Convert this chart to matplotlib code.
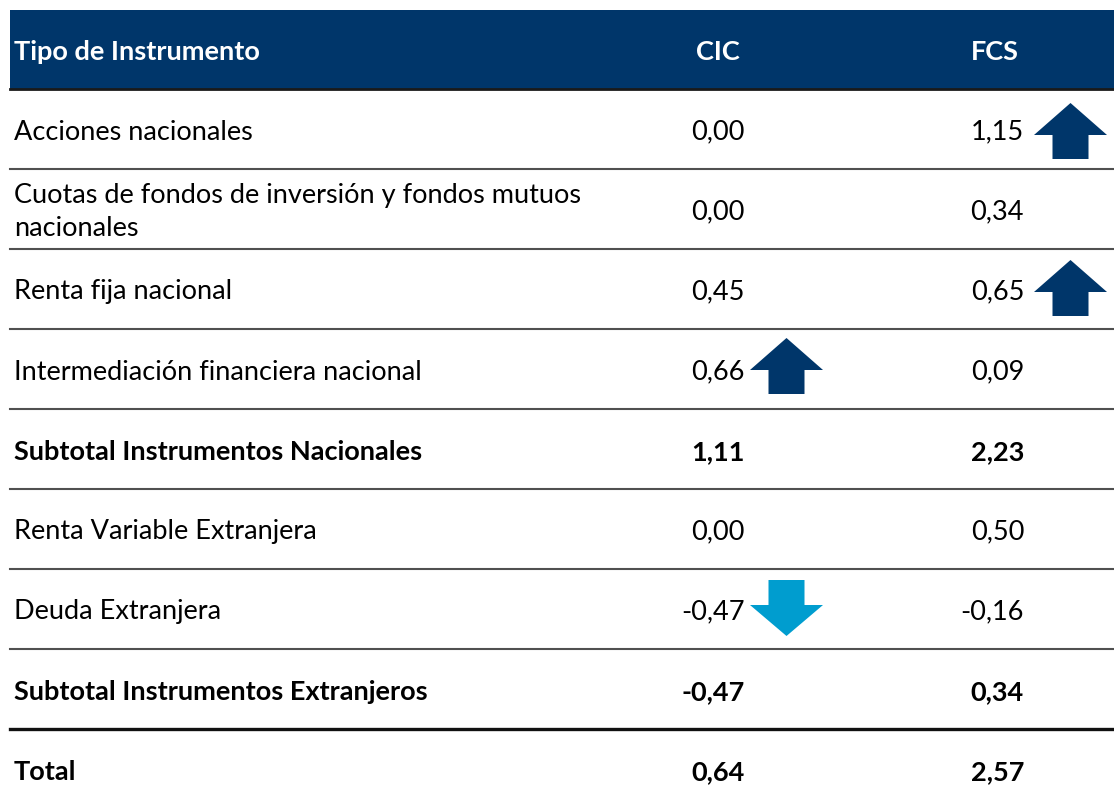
import matplotlib
matplotlib.use("Agg")
import matplotlib.pyplot as plt
from matplotlib.patches import Rectangle, Polygon

# table content
headers = ["Tipo de Instrumento", "CIC", "FCS"]
instrumentos = [
    "Acciones nacionales",
    "Cuotas de fondos de inversión y fondos mutuos\nnacionales",
    "Renta fija nacional",
    "Intermediación financiera nacional",
    "Subtotal Instrumentos Nacionales",
    "Renta Variable Extranjera",
    "Deuda Extranjera",
    "Subtotal Instrumentos Extranjeros",
    "Total",
]
cic = [0.00, 0.00, 0.45, 0.66, 1.11, 0.00, -0.47, -0.47, 0.64]
fcs = [1.15, 0.34, 0.65, 0.09, 2.23, 0.50, -0.16, 0.34, 2.57]
negrita = [False, False, False, False, True, False, False, True, True]
# arrows: (row, column, direction, small vertical shift)
flechas = [(0, "FCS", "up", 3), (2, "FCS", "up", 0), (3, "CIC", "up", -2),
           (6, "CIC", "down", 0)]

navy = "#00366A"
celeste = "#009DCF"
font = "Lato"
fs = 19.5

W, H = 1114, 806
fig = plt.figure(figsize=(W / 100, H / 100), dpi=100)
ax = fig.add_axes([0, 0, 1, 1])
ax.set_xlim(0, W)
ax.set_ylim(H, 0)
ax.axis("off")

x0 = 10
x_text = 14
col_x = {"CIC": 745, "FCS": 1024}
col_head = {"CIC": 718, "FCS": 995}
arrow_gap = {"CIC": 5, "FCS": 10}
top = 89
row_h = 80

# header band
ax.add_patch(Rectangle((x0, 10), W - x0, top - 10, color=navy, lw=0))
ax.plot([x0, W], [top, top], color="#1a1a1a", lw=2)
ax.text(x_text, 52, headers[0], color="white", fontsize=fs, fontweight="bold",
        family=font, va="center", ha="left")
for h in headers[1:]:
    ax.text(col_head[h], 52, h, color="white", fontsize=fs, fontweight="bold",
            family=font, va="center", ha="center")


def fmt(v):
    return f"{v:.2f}".replace(".", ",")


for i, name in enumerate(instrumentos):
    yc = top + row_h * i + row_h / 2 + 3
    w = "bold" if negrita[i] else "normal"
    ax.text(x_text, yc, name, fontsize=fs, fontweight=w, family=font,
            va="center", ha="left", linespacing=1.4)
    ax.text(col_x["CIC"], yc, fmt(cic[i]), fontsize=fs, fontweight=w,
            family=font, va="center", ha="right")
    ax.text(col_x["FCS"], yc, fmt(fcs[i]), fontsize=fs, fontweight=w,
            family=font, va="center", ha="right")
    # separator under row
    yl = top + row_h * (i + 1)
    if i == 7:
        ax.plot([x0, W], [yl, yl], color="#111111", lw=2.4)
    elif i < 7:
        ax.plot([x0, W], [yl, yl], color="#505050", lw=1.5)

# arrows
for fila, col, d, dy in flechas:
    yc = top + row_h * fila + row_h / 2 + dy
    xl = col_x[col] + arrow_gap[col]
    xr = xl + 73
    xm = (xl + xr) / 2
    sw = 18
    if d == "up":
        pts = [(xm, yc - 29), (xr, yc + 3), (xm + sw, yc + 3), (xm + sw, yc + 27),
               (xm - sw, yc + 27), (xm - sw, yc + 3), (xl, yc + 3)]
        c = navy
    else:
        pts = [(xm, yc + 27), (xr, yc - 4), (xm + sw, yc - 4), (xm + sw, yc - 29),
               (xm - sw, yc - 29), (xm - sw, yc - 4), (xl, yc - 4)]
        c = celeste
    ax.add_patch(Polygon(pts, closed=True, color=c, lw=0))

fig.savefig("out.png", dpi=100)
